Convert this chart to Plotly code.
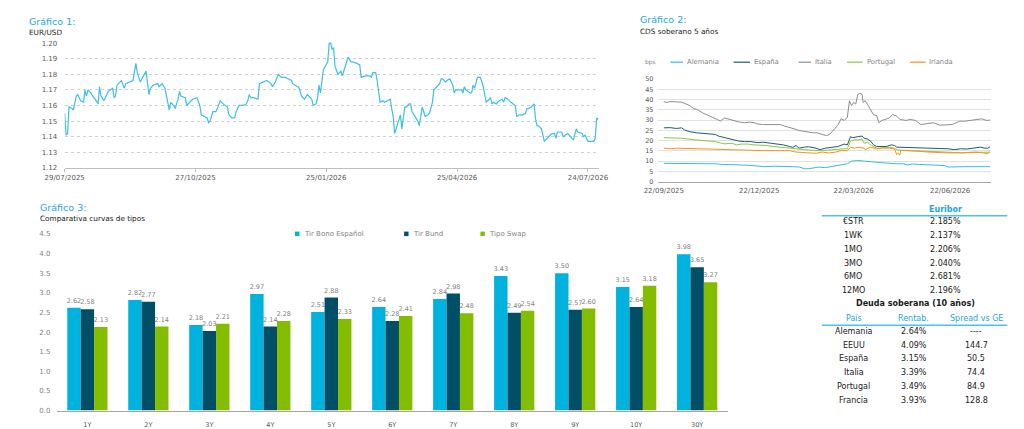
import plotly.graph_objects as go
import pandas as pd

# ---------------- Gráfico 1: EUR/USD (day offsets from start date) ----------------
fx_start = "2025-07-29"
fx_day = [0, 1, 2, 3, 5, 6, 8, 9, 11, 13, 14, 15, 16, 18, 20, 21, 23, 24, 25, 27,
          28, 30, 33, 34, 35, 36, 39, 41, 42, 44, 47, 49, 50, 52, 55, 56, 58, 59, 61, 64,
          65, 67, 69, 71, 72, 73, 75, 76, 78, 79, 80, 83, 84, 86, 88, 91, 93, 94, 96, 98,
          99, 100, 102, 104, 105, 107, 109, 112, 113, 115, 117, 118, 120, 123, 125, 126, 127, 128, 130, 133,
          134, 137, 139, 142, 143, 145, 147, 149, 152, 154, 156, 157, 160, 161, 163, 165, 167, 170, 171, 173,
          174, 175, 176, 178, 180, 181, 182, 183, 184, 185, 186, 187, 188, 190, 191, 193, 195, 197, 198, 201,
          203, 204, 206, 207, 210, 211, 212, 214, 215, 216, 217, 219, 220, 222, 224, 225, 226, 227, 229, 231,
          232, 234, 235, 237, 238, 239, 241, 243, 244, 245, 246, 247, 248, 250, 251, 253, 254, 256, 258, 259,
          260, 262, 263, 265, 267, 268, 269, 271, 273, 274, 275, 276, 279, 280, 281, 282, 284, 286, 288, 289,
          290, 292, 293, 294, 295, 297, 299, 301, 302, 303, 305, 307, 309, 310, 311, 313, 315, 317, 318, 319,
          321, 323, 324, 325, 326, 328, 329, 330, 332, 334, 335, 337, 338, 339, 341, 342, 343, 346, 348, 350,
          352, 353, 356, 357, 358, 360, 362, 364, 365, 366, 367]
fx_rate = [1.155, 1.141, 1.142, 1.159, 1.158, 1.157, 1.166, 1.167, 1.163, 1.162, 1.170, 1.166, 1.170, 1.168, 1.165, 1.164, 1.161, 1.172, 1.166, 1.163,
           1.165, 1.169, 1.171, 1.165, 1.166, 1.173, 1.176, 1.171, 1.174, 1.175, 1.176, 1.187, 1.181, 1.175, 1.180, 1.182, 1.167, 1.171, 1.173, 1.174,
           1.172, 1.174, 1.171, 1.163, 1.157, 1.162, 1.160, 1.158, 1.164, 1.169, 1.166, 1.165, 1.160, 1.162, 1.164, 1.165, 1.160, 1.154, 1.153, 1.152,
           1.149, 1.150, 1.156, 1.156, 1.158, 1.163, 1.161, 1.159, 1.154, 1.152, 1.152, 1.156, 1.160, 1.160, 1.161, 1.163, 1.167, 1.165, 1.165, 1.164,
           1.174, 1.175, 1.176, 1.174, 1.172, 1.175, 1.180, 1.178, 1.178, 1.177, 1.176, 1.174, 1.172, 1.172, 1.166, 1.164, 1.167, 1.164, 1.160, 1.161,
           1.165, 1.173, 1.168, 1.183, 1.186, 1.188, 1.200, 1.200, 1.196, 1.197, 1.185, 1.182, 1.180, 1.182, 1.179, 1.185, 1.191, 1.188, 1.188, 1.187,
           1.186, 1.178, 1.179, 1.179, 1.179, 1.178, 1.181, 1.181, 1.176, 1.169, 1.162, 1.163, 1.162, 1.163, 1.164, 1.158, 1.153, 1.142, 1.148, 1.154,
           1.145, 1.159, 1.159, 1.161, 1.161, 1.156, 1.153, 1.150, 1.147, 1.152, 1.159, 1.156, 1.153, 1.154, 1.155, 1.162, 1.170, 1.172, 1.174, 1.177,
           1.177, 1.175, 1.176, 1.177, 1.173, 1.168, 1.170, 1.170, 1.170, 1.168, 1.172, 1.170, 1.168, 1.168, 1.173, 1.171, 1.178, 1.178, 1.172, 1.167,
           1.162, 1.164, 1.165, 1.161, 1.162, 1.161, 1.163, 1.164, 1.162, 1.165, 1.164, 1.162, 1.161, 1.160, 1.153, 1.154, 1.154, 1.155, 1.158, 1.158,
           1.159, 1.161, 1.151, 1.147, 1.147, 1.145, 1.141, 1.137, 1.139, 1.141, 1.142, 1.142, 1.139, 1.143, 1.143, 1.143, 1.140, 1.142, 1.140, 1.138,
           1.145, 1.143, 1.142, 1.140, 1.141, 1.137, 1.137, 1.137, 1.139, 1.152, 1.151]
fx_tick_dates = ["2025-07-29", "2025-10-27", "2026-01-25", "2026-04-25", "2026-07-24"]
fx_yticks = [1.12, 1.13, 1.14, 1.15, 1.16, 1.17, 1.18, 1.19, 1.20]

# ---------------- Gráfico 2: CDS soberano 5 años (day offsets from start) ----------------
cds_start = "2025-09-22"
cds_names = ["Alemania", "España", "Italia", "Portugal", "Irlanda"]
ale_day = [0, 9, 18, 28, 40, 49, 55, 65, 74, 83, 89, 95, 105, 114, 123, 129, 134, 138, 143, 148,
           154, 160, 166, 172, 175, 179, 185, 191, 197, 203, 209, 215, 222, 228, 232, 237, 243, 249, 255, 262,
           268, 271, 277, 286, 295, 302, 308, 311]
ale_val = [8.9, 8.9, 8.7, 8.7, 8.7, 8.7, 8.4, 8.4, 8.1, 7.9, 7.5, 7.3, 7.5, 7.5, 7.3, 7.1, 6.3, 6.3, 6.8, 7.1,
           6.8, 7.3, 7.6, 8.4, 8.7, 10.0, 10.3, 10.0, 9.7, 9.2, 9.0, 8.9, 8.7, 8.7, 8.1, 8.6, 8.4, 8.3, 8.1, 7.9,
           7.8, 7.1, 7.3, 7.3, 7.3, 7.3, 7.5, 7.3]
esp_day = [0, 6, 12, 17, 20, 25, 31, 37, 43, 49, 52, 58, 65, 71, 77, 83, 89, 95, 102, 108,
           114, 120, 123, 126, 129, 134, 138, 145, 149, 154, 160, 166, 172, 175, 178, 180, 185, 189, 191, 194,
           197, 200, 203, 206, 212, 217, 220, 222, 228, 234, 240, 246, 252, 258, 265, 271, 277, 283, 289, 295,
           302, 306, 309, 311]
esp_val = [26.2, 26.3, 25.9, 26.2, 25.1, 24.3, 23.8, 23.5, 23.0, 23.0, 22.2, 21.4, 20.6, 19.8, 19.5, 19.5, 19.0, 19.2, 18.7, 18.3,
           17.9, 17.1, 16.7, 17.6, 16.3, 16.8, 17.0, 16.3, 15.6, 16.3, 16.8, 17.1, 18.3, 17.9, 21.9, 21.4, 21.9, 22.2, 21.1, 20.8,
           19.8, 17.9, 17.1, 17.0, 17.1, 17.9, 17.6, 16.8, 16.7, 16.7, 16.3, 16.3, 16.3, 16.0, 15.9, 16.0, 15.6, 16.0, 15.9, 16.3,
           16.8, 16.3, 16.3, 17.0]
ita_day = [0, 3, 6, 9, 14, 17, 20, 25, 28, 32, 37, 42, 46, 51, 54, 58, 63, 68, 72, 77,
           82, 86, 89, 94, 98, 105, 111, 115, 120, 125, 129, 135, 142, 146, 151, 155, 158, 163, 166, 169,
           172, 175, 177, 179, 181, 183, 185, 187, 189, 190, 192, 195, 197, 200, 203, 205, 208, 212, 215, 218,
           222, 225, 231, 235, 240, 245, 251, 257, 263, 269, 275, 282, 286, 292, 298, 303, 308, 311]
ita_val = [38.9, 38.6, 39.0, 38.9, 39.0, 38.7, 38.1, 37.0, 35.7, 35.1, 33.5, 32.2, 31.4, 30.3, 29.5, 31.0, 30.3, 29.7, 29.0, 28.7,
           29.0, 28.7, 28.1, 27.8, 27.8, 27.8, 27.8, 27.1, 26.5, 25.6, 24.9, 24.3, 23.8, 23.8, 23.0, 22.4, 23.0, 25.9, 27.5, 30.6,
           29.8, 31.4, 39.4, 37.0, 38.6, 37.8, 42.5, 43.0, 42.5, 38.6, 39.4, 37.0, 35.4, 32.5, 32.2, 28.7, 29.8, 30.3, 31.0, 32.7,
           31.9, 30.3, 29.8, 30.3, 29.8, 27.8, 28.3, 28.7, 27.5, 27.8, 27.8, 29.4, 29.4, 29.8, 30.3, 30.6, 29.8, 30.0]
por_day = [0, 6, 12, 18, 25, 31, 37, 43, 49, 55, 58, 65, 69, 74, 80, 86, 92, 98, 105, 111,
           117, 123, 132, 142, 151, 160, 169, 175, 178, 182, 186, 189, 191, 194, 198, 203, 206, 215, 220, 223,
           231, 240, 249, 258, 268, 277, 286, 292, 298, 305, 308, 311]
por_val = [21.4, 21.4, 21.4, 21.1, 20.6, 20.3, 20.3, 20.0, 19.5, 18.7, 18.4, 18.7, 17.9, 18.3, 18.3, 17.9, 17.9, 17.6, 17.1, 16.8,
           16.3, 16.0, 15.6, 15.2, 15.1, 15.6, 15.9, 16.0, 19.8, 20.3, 20.3, 20.8, 18.7, 19.2, 17.6, 16.3, 16.3, 16.7, 16.3, 15.4,
           15.2, 15.1, 14.8, 14.8, 14.4, 14.4, 14.0, 14.3, 14.4, 14.0, 13.5, 14.4]
irl_day = [0, 6, 12, 18, 25, 31, 37, 43, 49, 55, 62, 68, 77, 86, 95, 105, 114, 120, 126, 132,
           138, 145, 151, 157, 163, 169, 175, 178, 182, 186, 191, 192, 197, 203, 208, 215, 220, 222, 223, 225,
           226, 234, 243, 252, 262, 271, 280, 289, 298, 305, 311]
irl_val = [16.3, 16.0, 16.3, 16.2, 16.3, 16.0, 16.2, 16.0, 15.9, 15.6, 15.7, 15.4, 15.4, 15.2, 15.1, 15.1, 15.1, 15.1, 14.4, 14.3,
           14.0, 13.8, 14.4, 14.0, 14.3, 15.1, 15.1, 16.7, 16.3, 16.8, 16.3, 15.6, 16.8, 15.9, 16.3, 16.3, 15.9, 13.2, 14.0, 12.9,
           15.2, 15.1, 14.8, 14.4, 14.1, 14.0, 14.0, 14.0, 14.1, 14.3, 14.4]
cds_tick_dates = ["2025-09-22", "2025-12-22", "2026-03-22", "2026-06-22"]
cds_yticks = [0, 5, 10, 15, 20, 25, 30, 35, 40, 45, 50]

# ---------------- Gráfico 3: Comparativa curvas de tipos ----------------
tenors = ["1Y", "2Y", "3Y", "4Y", "5Y", "6Y", "7Y", "8Y", "9Y", "10Y", "30Y"]
tir_bono_esp = [2.62, 2.82, 2.18, 2.97, 2.51, 2.64, 2.84, 3.43, 3.50, 3.15, 3.98]
tir_bund = [2.58, 2.77, 2.03, 2.14, 2.88, 2.28, 2.98, 2.49, 2.57, 2.64, 3.65]
tipo_swap = [2.13, 2.14, 2.21, 2.28, 2.33, 2.41, 2.48, 2.54, 2.60, 3.18, 3.27]
bar_names = ["Tir Bono Español", "Tir Bund", "Tipo Swap"]

# ---------------- Tabla ----------------
euribor_tenor = ["€STR", "1WK", "1MO", "3MO", "6MO", "12MO"]
euribor_rate = ["2.185%", "2.137%", "2.206%", "2.040%", "2.681%", "2.196%"]
debt_country = ["Alemania", "EEUU", "España", "Italia", "Portugal", "Francia"]
debt_yield = ["2.64%", "4.09%", "3.15%", "3.39%", "3.49%", "3.93%"]
debt_spread = ["----", "144.7", "50.5", "74.4", "84.9", "128.8"]

for a, b in [(fx_day, fx_rate), (ale_day, ale_val), (esp_day, esp_val), (ita_day, ita_val),
             (por_day, por_val), (irl_day, irl_val)]:
    assert len(a) == len(b), (len(a), len(b))

# ---------------- styling ----------------
W, H = 1024, 429
FONT = "DejaVu Sans"
CYAN_T = "#1EA7DD"
TXT = "#1A1A1A"
TICK = "#595959"
GREY = "#7F7F7F"
C_ESP, C_BUND, C_SWAP = "#00B3DE", "#004F67", "#84BD00"
cds_colors = ["#34BDE9", "#1F5A74", "#8E8E8E", "#8DC63F", "#F7941D"]


def px(x):
    return x / W


def py(y):
    return 1 - y / H


def dates(start, days):
    return pd.Timestamp(start) + pd.to_timedelta(days, unit="D")


fig = go.Figure()

# Chart 1
fig.add_trace(go.Scatter(x=dates(fx_start, fx_day), y=fx_rate, mode="lines",
                         line=dict(color="#3DBFE8", width=1.2), xaxis="x", yaxis="y",
                         showlegend=False, name="EUR/USD"))

# Chart 2
cds_series = [(ale_day, ale_val), (esp_day, esp_val), (ita_day, ita_val), (por_day, por_val), (irl_day, irl_val)]
for name, (d, v), col in zip(cds_names, cds_series, cds_colors):
    fig.add_trace(go.Scatter(x=dates(cds_start, d), y=v, mode="lines", name=name,
                             line=dict(color=col, width=1), xaxis="x2", yaxis="y2", showlegend=False))

# Chart 3
for name, vals, col in zip(bar_names, [tir_bono_esp, tir_bund, tipo_swap], [C_ESP, C_BUND, C_SWAP]):
    fig.add_trace(go.Bar(x=tenors, y=vals, name=name, marker=dict(color=col, line=dict(width=0)),
                         text=[f"{v:.2f}" for v in vals], textposition="outside",
                         textfont=dict(family=FONT, size=6.5, color=GREY), constraintext="none",
                         cliponaxis=False, xaxis="x3", yaxis="y3", showlegend=False))

fx_ticks = pd.to_datetime(fx_tick_dates)
cds_ticks = pd.to_datetime(cds_tick_dates)

fig.update_layout(
    width=W, height=H, autosize=False,
    margin=dict(l=0, r=0, t=0, b=0),
    paper_bgcolor="white", plot_bgcolor="white",
    font=dict(family=FONT, size=7, color=TICK),
    barmode="group", bargap=0.34, bargroupgap=0,
    xaxis=dict(domain=[px(46), px(596)], type="date",
               range=[pd.Timestamp(fx_start), pd.Timestamp(fx_start) + pd.Timedelta(days=367.3)],
               tickvals=fx_ticks, ticktext=[t.strftime("%d/%m/%Y") for t in fx_ticks],
               showgrid=False, showline=True, linecolor="#BFBFBF", linewidth=1,
               ticks="outside", ticklen=3, tickcolor="#BFBFBF",
               tickfont=dict(size=7, color=TICK), anchor="y", zeroline=False),
    yaxis=dict(domain=[py(167), py(39)], range=[1.12, 1.2005], tickvals=fx_yticks, tickformat=".2f",
               showgrid=True, gridcolor="#D0D0D0", griddash="dot", gridwidth=1, zeroline=False,
               ticks="outside", ticklen=5, tickcolor="rgba(0,0,0,0)",
               tickfont=dict(size=7, color=TICK), anchor="x"),
    xaxis2=dict(domain=[px(657), px(1000)], type="date",
                range=[pd.Timestamp(cds_start) - pd.Timedelta(days=5.8),
                       pd.Timestamp(cds_start) + pd.Timedelta(days=311.7)],
                tickvals=cds_ticks, ticktext=[t.strftime("%d/%m/%Y") for t in cds_ticks],
                showgrid=False, showline=True, linecolor="#A6A6A6", linewidth=1,
                ticks="outside", ticklen=2, tickcolor="rgba(0,0,0,0)",
                tickfont=dict(size=7, color=TICK), anchor="y2", zeroline=False),
    yaxis2=dict(domain=[py(181), py(76)], range=[0, 50.2], tickvals=cds_yticks,
                showgrid=True, gridcolor="#E2E2E2", gridwidth=1, zeroline=False,
                ticks="outside", ticklen=2, tickcolor="rgba(0,0,0,0)",
                tickfont=dict(size=6.5, color=TICK), anchor="x2"),
    xaxis3=dict(domain=[px(38), px(729)], type="category", showgrid=False, showline=True,
                linecolor="#A6A6A6", linewidth=1, ticks="outside", ticklen=8,
                tickcolor="rgba(0,0,0,0)", tickfont=dict(size=6.5, color=TICK), anchor="y3"),
    yaxis3=dict(domain=[py(414.3), py(234.3)], range=[0, 4.5], dtick=0.5, tickformat=".1f",
                showgrid=False, zeroline=False, ticks="outside", ticklen=4,
                tickcolor="rgba(0,0,0,0)", tickfont=dict(size=7, color=GREY), anchor="x3"),
)

ann = []
shapes = []


def text(x, y, s, size=7, color=TXT, xanchor="left", bold=False):
    ann.append(dict(x=px(x), y=py(y), xref="paper", yref="paper", text=f"<b>{s}</b>" if bold else s,
                    showarrow=False, xanchor=xanchor, yanchor="middle",
                    font=dict(family=FONT, size=size, color=color)))


# titles
text(7, 18, "Gráfico 1:", size=9.5, color=CYAN_T)
text(7, 29, "EUR/USD", size=7.3, color=TXT)
text(637, 16, "Gráfico 2:", size=9.5, color=CYAN_T)
text(637, 28, "CDS soberano 5 años", size=7.3, color=TXT)
text(19, 207, "Gráfico 3:", size=9.5, color=CYAN_T)
text(19, 219, "Comparativa curvas de tipos", size=7.3, color=TXT)

# CDS legend (manual)
text(642, 59.3, "bps", size=6, color=GREY)
leg_x = [(670, 683, 685.5), (735, 752, 754.5), (802, 815, 816.5), (852, 868, 871), (917, 933, 934.5)]
for (x0, x1, xt), name, col in zip(leg_x, cds_names, cds_colors):
    shapes.append(dict(type="line", xref="paper", yref="paper", x0=px(x0), x1=px(x1),
                       y0=py(59.3), y1=py(59.3), line=dict(color=col, width=1.2)))
    text(xt, 59.3, name, size=6.8, color=GREY)

# Bar legend (manual)
bleg = [(283.3, 290), (395.7, 402.3), (474.3, 480.8)]
for (xs, xt), name, col in zip(bleg, bar_names, [C_ESP, C_BUND, C_SWAP]):
    shapes.append(dict(type="rect", xref="paper", yref="paper", x0=px(xs), x1=px(xs + 4.6),
                       y0=py(236.5), y1=py(231.9), fillcolor=col, line=dict(width=0)))
    text(xt, 234.2, name, size=7, color=GREY)

# Table
text(953.8, 209, "Euribor", size=8, color=CYAN_T, xanchor="center", bold=True)
shapes.append(dict(type="line", xref="paper", yref="paper", x0=px(826), x1=px(1017),
                   y0=py(215.8), y1=py(215.8), line=dict(color="#4CC3EC", width=1.5)))
eur_y = [221.2, 236.0, 250.0, 264.0, 277.8, 291.8]
for yy, t, r in zip(eur_y, euribor_tenor, euribor_rate):
    text(858.5, yy, t, size=8, xanchor="center")
    text(953.8, yy, r, size=8, xanchor="center")
text(922.7, 305.2, "Deuda soberana (10 años)", size=8, color=TXT, xanchor="center", bold=True)
text(859, 320, "País", size=8, color=CYAN_T, xanchor="center")
text(920.7, 320, "Rentab.", size=8, color=CYAN_T, xanchor="center")
text(985.5, 320, "Spread vs GE", size=8, color=CYAN_T, xanchor="center")
shapes.append(dict(type="line", xref="paper", yref="paper", x0=px(826), x1=px(1017),
                   y0=py(327.4), y1=py(327.4), line=dict(color="#4CC3EC", width=1.5)))
debt_y = [333.5, 347.7, 361.7, 375.7, 389.5, 403.6]
for yy, c, r, s in zip(debt_y, debt_country, debt_yield, debt_spread):
    text(858.7, yy, c, size=8, xanchor="center")
    text(920.7, yy, r, size=8, xanchor="center")
    text(985, yy, s, size=8, xanchor="center")

fig.update_layout(annotations=ann, shapes=shapes)

fig.write_html("out.html", config={"displayModeBar": False},
               post_script="document.body.style.margin='0';document.body.style.overflow='hidden';")
